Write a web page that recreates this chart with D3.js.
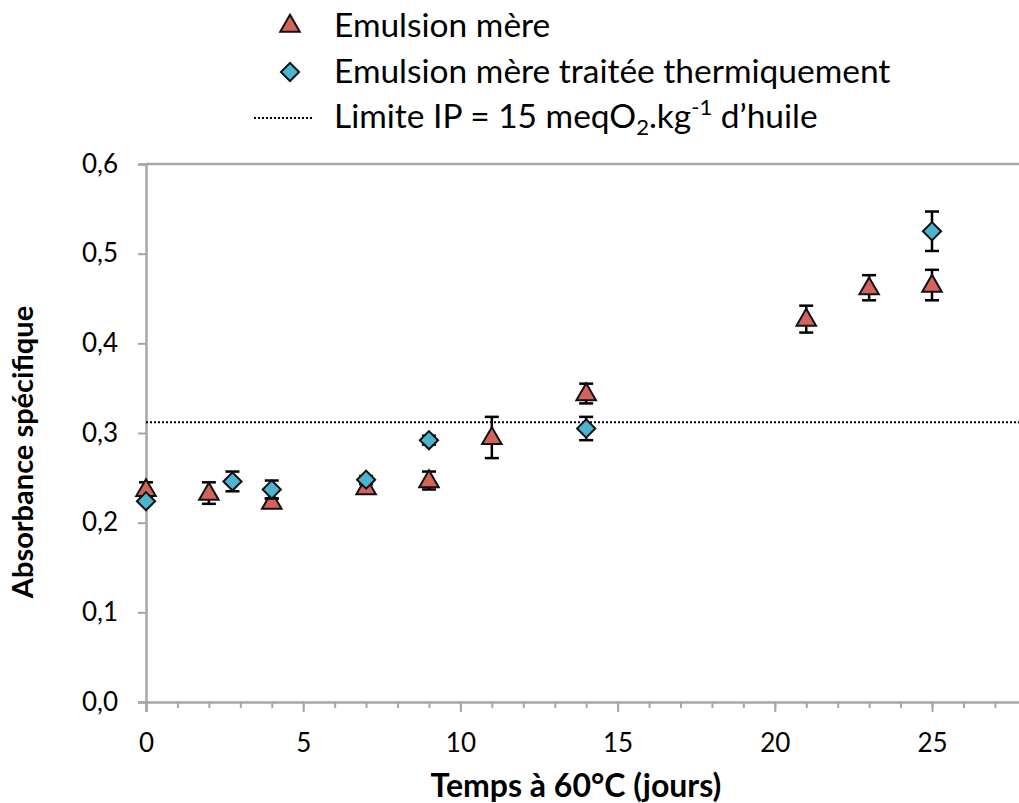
<!DOCTYPE html>
<html>
<head>
<meta charset="utf-8">
<script src="https://cdn.jsdelivr.net/npm/d3@7"></script>
<style>
  body { margin: 0; background: #fff; }
  svg { display: block; font-family: Lato, "Open Sans", sans-serif; }
</style>
</head>
<body>
<div id="chart"></div>
<script>
// Emulsion mère (triangles)
const daysMere = [0, 2, 4, 7, 9, 11, 14, 21, 23, 25];
const absMere = [0.237, 0.233, 0.223, 0.239, 0.247, 0.295, 0.344, 0.427, 0.462, 0.465];
const errMere = [0.008, 0.012, 0.004, 0.004, 0.010, 0.023, 0.011, 0.015, 0.014, 0.017];

// Emulsion mère traitée thermiquement (diamonds)
const daysTraitee = [0, 2.75, 4, 7, 9, 14, 25];
const absTraitee = [0.224, 0.246, 0.237, 0.248, 0.292, 0.305, 0.525];
const errTraitee = [0.003, 0.011, 0.010, 0.004, 0.005, 0.013, 0.022];

// Limite IP = 15 meqO2/kg
const limiteIP = 0.312;

const yTicks = [0, 0.1, 0.2, 0.3, 0.4, 0.5, 0.6];
const xMajorTicks = [0, 5, 10, 15, 20, 25];

const width = 1019, height = 803;
const fmt = d => d3.format(".1f")(d).replace(".", ",");

const svg = d3.select("#chart").append("svg")
    .attr("width", width)
    .attr("height", height);

const x = d3.scaleLinear().domain([0, 30]).range([146, 146 + 30 * 31.44]);
const y = d3.scaleLinear().domain([0, 0.6]).range([702, 164]);

const axisColor = "#a6a6a6";

// top border of plot area
svg.append("line")
    .attr("x1", x(0)).attr("x2", width)
    .attr("y1", y(0.6)).attr("y2", y(0.6))
    .attr("stroke", axisColor).attr("stroke-width", 2.5);

// y axis
const yAxis = svg.append("g")
    .attr("transform", `translate(${x(0)},0)`)
    .call(d3.axisLeft(y).tickValues(yTicks).tickFormat(fmt).tickSize(8).tickPadding(20));
yAxis.select(".domain").attr("stroke", axisColor).attr("stroke-width", 2.5);
yAxis.selectAll(".tick line").attr("stroke", axisColor).attr("stroke-width", 2);
yAxis.selectAll("text").attr("font-size", 26).attr("fill", "#000").attr("font-family", "Lato");

// x axis minor ticks
const xMinor = svg.append("g")
    .attr("transform", `translate(0,${y(0)})`)
    .call(d3.axisBottom(x).tickValues(d3.range(0, 31, 1)).tickFormat("").tickSize(6));
xMinor.select(".domain").remove();
xMinor.selectAll(".tick line").attr("stroke", axisColor).attr("stroke-width", 2);

// x axis
const xAxis = svg.append("g")
    .attr("transform", `translate(0,${y(0)})`)
    .call(d3.axisBottom(x).tickValues(xMajorTicks).tickFormat(d3.format("d")).tickSize(10).tickPadding(22));
xAxis.select(".domain").attr("stroke", axisColor).attr("stroke-width", 2.5);
xAxis.selectAll(".tick line").attr("stroke", axisColor).attr("stroke-width", 2);
xAxis.selectAll("text").attr("font-size", 26).attr("fill", "#000").attr("font-family", "Lato");

// limit line
svg.append("line")
    .attr("x1", x(0)).attr("x2", width)
    .attr("y1", y(limiteIP)).attr("y2", y(limiteIP))
    .attr("stroke", "#000").attr("stroke-width", 2)
    .attr("stroke-dasharray", "2,2");

const triFill = "#d5635b", diaFill = "#4bb4d0";
const triangle = d3.symbol().type(d3.symbolTriangle).size(165);
const diamond = d3.symbol().type(d3.symbolSquare).size(165);

function drawSeries(days, vals, errs, cls, drawMarker) {
    const data = days.map((d, i) => ({ x: d, v: vals[i], e: errs[i] }));
    const g = svg.append("g").attr("class", cls);
    const eb = g.selectAll(".err").data(data).enter().append("g")
        .attr("stroke", "#000").attr("stroke-width", 2.5);
    eb.append("line")
        .attr("x1", d => x(d.x)).attr("x2", d => x(d.x))
        .attr("y1", d => y(d.v - d.e)).attr("y2", d => y(d.v + d.e));
    eb.append("line")
        .attr("x1", d => x(d.x) - 7).attr("x2", d => x(d.x) + 7)
        .attr("y1", d => y(d.v + d.e)).attr("y2", d => y(d.v + d.e));
    eb.append("line")
        .attr("x1", d => x(d.x) - 7).attr("x2", d => x(d.x) + 7)
        .attr("y1", d => y(d.v - d.e)).attr("y2", d => y(d.v - d.e));
    g.selectAll(".m").data(data).enter().append("path")
        .each(function(d) { drawMarker(d3.select(this), x(d.x), y(d.v)); });
}

function triMarker(sel, cx, cy) {
    sel.attr("d", triangle)
        .attr("transform", `translate(${cx},${cy + 1})`)
        .attr("fill", triFill).attr("stroke", "#111").attr("stroke-width", 2);
}
function diaMarker(sel, cx, cy) {
    sel.attr("d", diamond)
        .attr("transform", `translate(${cx},${cy}) rotate(45)`)
        .attr("fill", diaFill).attr("stroke", "#111").attr("stroke-width", 2);
}

drawSeries(daysMere, absMere, errMere, "mere", triMarker);
drawSeries(daysTraitee, absTraitee, errTraitee, "traitee", diaMarker);

// legend
const legend = svg.append("g").attr("font-size", 33.5).attr("fill", "#000");
triMarker(legend.append("path"), 290, 25);
diaMarker(legend.append("path"), 290, 72);
legend.append("line")
    .attr("x1", 254).attr("x2", 314).attr("y1", 118).attr("y2", 118)
    .attr("stroke", "#000").attr("stroke-width", 2).attr("stroke-dasharray", "2,2");

legend.append("text").attr("x", 334).attr("y", 37).text("Emulsion mère");
legend.append("text").attr("x", 334).attr("y", 83).text("Emulsion mère traitée thermiquement");
const lim = legend.append("text").attr("x", 334).attr("y", 128);
lim.append("tspan").text("Limite IP = 15 meqO");
lim.append("tspan").attr("font-size", 22).attr("dy", 7).text("2");
lim.append("tspan").attr("dy", -7).text(".kg");
lim.append("tspan").attr("font-size", 22).attr("dy", -13).text("-1");
lim.append("tspan").attr("dy", 13).text(" d’huile");

// axis titles
svg.append("text")
    .attr("x", 576).attr("y", 797)
    .attr("text-anchor", "middle")
    .attr("font-weight", "bold").attr("font-size", 32)
    .text("Temps à 60°C (jours)");

svg.append("text")
    .attr("transform", "translate(33,452) rotate(-90)")
    .attr("text-anchor", "middle")
    .attr("font-weight", "bold").attr("font-size", 29)
    .text("Absorbance spécifique");
</script>
</body>
</html>
